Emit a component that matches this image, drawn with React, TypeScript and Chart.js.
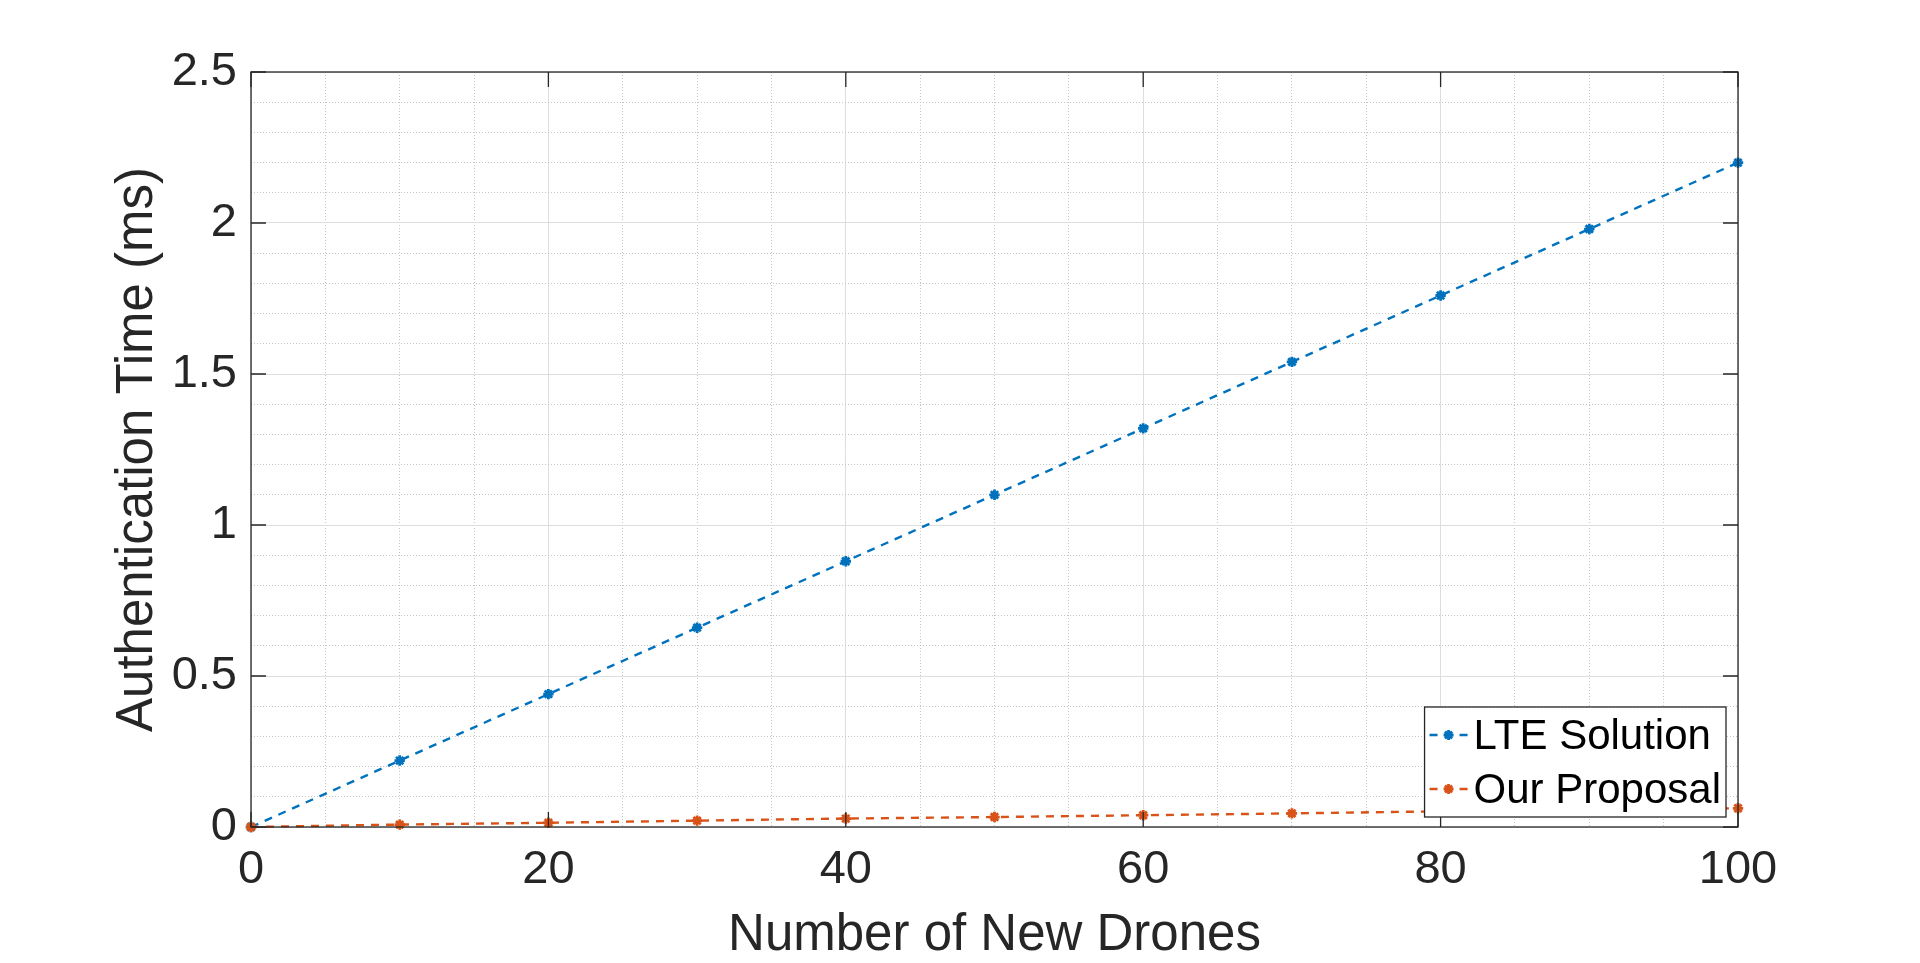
import { useEffect, useRef } from "react";
import { Chart, registerables } from "chart.js";

Chart.register(...registerables);

// values
const drones = [0, 10, 20, 30, 40, 50, 60, 70, 80, 90, 100];
const lteTime = [0, 0.22, 0.44, 0.66, 0.88, 1.1, 1.32, 1.54, 1.76, 1.98, 2.2];
const ourTime = [0, 0.008, 0.014, 0.021, 0.028, 0.033, 0.039, 0.045, 0.052, 0.057, 0.062];
const seriesNames = ["LTE Solution", "Our Proposal"];
const xTickLabels = [0, 20, 40, 60, 80, 100];
const yTickLabels = [0, 0.5, 1, 1.5, 2, 2.5];

const BLUE = "#0072BD";
const ORANGE = "#D95319";
const AXIS = "#262626";
const FONT = "'Liberation Sans', Arial, sans-serif";

function drawStar(ctx: CanvasRenderingContext2D, x: number, y: number, r: number) {
  const d = r * Math.SQRT1_2;
  ctx.beginPath();
  ctx.moveTo(x - r, y);
  ctx.lineTo(x + r, y);
  ctx.moveTo(x, y - r);
  ctx.lineTo(x, y + r);
  ctx.moveTo(x - d, y - d);
  ctx.lineTo(x + d, y + d);
  ctx.moveTo(x - d, y + d);
  ctx.lineTo(x + d, y - d);
  ctx.stroke();
}

// box round the axes with inward tick marks, like matlab's "box on"
const framePlugin = {
  id: "frame",
  afterDatasetsDraw(chart: any) {
    const { ctx, chartArea: a, scales } = chart;
    const len = 15;
    ctx.save();
    ctx.setLineDash([]);
    ctx.strokeStyle = AXIS;
    ctx.lineWidth = 1.3;
    ctx.strokeRect(a.left, a.top, a.right - a.left, a.bottom - a.top);
    ctx.beginPath();
    xTickLabels.forEach((v) => {
      const px = scales.x.getPixelForValue(v);
      ctx.moveTo(px, a.bottom);
      ctx.lineTo(px, a.bottom - len);
      ctx.moveTo(px, a.top);
      ctx.lineTo(px, a.top + len);
    });
    yTickLabels.forEach((v) => {
      const py = scales.y.getPixelForValue(v);
      ctx.moveTo(a.left, py);
      ctx.lineTo(a.left + len, py);
      ctx.moveTo(a.right, py);
      ctx.lineTo(a.right - len, py);
    });
    ctx.stroke();
    ctx.restore();
  },
};

// legend in the lower right corner of the axes
const legendPlugin = {
  id: "cornerLegend",
  afterDraw(chart: any) {
    const { ctx, chartArea: a } = chart;
    ctx.save();
    ctx.font = `42px ${FONT}`;
    const textW = Math.max(...seriesNames.map((s) => ctx.measureText(s).width));
    const w = 49 + textW + 5;
    const h = 110;
    const right = a.right - 12;
    const bottom = a.bottom - 10;
    const left = right - w;
    const top = bottom - h;
    ctx.fillStyle = "#fff";
    ctx.fillRect(left, top, w, h);
    ctx.strokeStyle = AXIS;
    ctx.lineWidth = 1.3;
    ctx.strokeRect(left, top, w, h);

    chart.data.datasets.forEach((ds: any, i: number) => {
      const y = top + 30 + i * 54;
      ctx.strokeStyle = ds.borderColor;
      ctx.lineWidth = 2.5;
      ctx.setLineDash([8, 7]);
      ctx.beginPath();
      ctx.moveTo(left + 5, y - 2);
      ctx.lineTo(left + 44, y - 2);
      ctx.stroke();
      ctx.setLineDash([]);
      ctx.lineWidth = 2.8;
      drawStar(ctx, left + 24, y - 2, 5);
      ctx.fillStyle = "#000";
      ctx.textBaseline = "middle";
      ctx.textAlign = "left";
      ctx.fillText(ds.label, left + 49, y);
    });
    ctx.restore();
  },
};

export default function App() {
  const canvasRef = useRef<HTMLCanvasElement>(null);
  const chartRef = useRef<Chart | null>(null);

  useEffect(() => {
    if (!canvasRef.current) return;
    if (chartRef.current) chartRef.current.destroy();

    const line = (label: string, values: number[], color: string, order: number) => ({
      label,
      data: drones.map((x, i) => ({ x, y: values[i] })),
      borderColor: color,
      backgroundColor: color,
      borderWidth: 2.4,
      borderDash: [8, 7],
      pointStyle: "star" as const,
      pointRadius: 5.2,
      pointBorderWidth: 2.8,
      pointBorderColor: color,
      pointBackgroundColor: color,
      fill: false,
      tension: 0,
      clip: false as const,
      order,
    });

    const tickFont = { family: FONT, size: 47 };
    const titleFont = { family: FONT, size: 51 };

    chartRef.current = new Chart(canvasRef.current, {
      type: "line",
      data: {
        datasets: [
          line(seriesNames[0], lteTime, BLUE, 2),
          line(seriesNames[1], ourTime, ORANGE, 1),
        ],
      },
      options: {
        responsive: false,
        devicePixelRatio: 1,
        animation: false,
        layout: { padding: { left: 107, top: 72, right: 182, bottom: -4 } },
        plugins: {
          legend: { display: false },
          tooltip: { enabled: false },
        },
        scales: {
          x: {
            type: "linear",
            position: "bottom",
            min: 0,
            max: 100,
            afterBuildTicks: (s: any) => {
              s.ticks = xTickLabels.map((value) => ({ value }));
            },
            afterFit: (s: any) => {
              s.height = 140;
            },
            grid: { color: "#dedede", lineWidth: 1, drawTicks: false },
            border: { display: false },
            ticks: {
              padding: 15,
              color: AXIS,
              font: tickFont,
              maxRotation: 0,
              autoSkip: false,
              callback: (v: any) => String(v),
            },
            title: { display: true, text: "Number of New Drones", color: AXIS, font: titleFont, padding: 0 },
          },
          xMinor: {
            type: "linear",
            position: "bottom",
            min: 0,
            max: 100,
            afterFit: (s: any) => {
              s.height = 0;
            },
            ticks: { display: false, stepSize: 5, maxTicksLimit: 100, autoSkip: false },
            grid: {
              drawTicks: false,
              lineWidth: 1,
              color: (c: any) => (c.tick && c.tick.value % 20 === 0 ? "rgba(0,0,0,0)" : "#c4c4c4"),
            },
            border: { display: false, dash: [1, 2] },
          },
          y: {
            type: "linear",
            position: "left",
            min: 0,
            max: 2.5,
            afterBuildTicks: (s: any) => {
              s.ticks = yTickLabels.map((value) => ({ value }));
            },
            afterFit: (s: any) => {
              s.width = 144;
            },
            grid: { color: "#dedede", lineWidth: 1, drawTicks: false },
            border: { display: false },
            ticks: { padding: 14, color: AXIS, font: tickFont, callback: (v: any) => String(v) },
            title: { display: true, text: "Authentication Time (ms)", color: AXIS, font: titleFont, padding: 0 },
          },
          yMinor: {
            type: "linear",
            position: "left",
            min: 0,
            max: 2.5,
            afterFit: (s: any) => {
              s.width = 0;
            },
            ticks: { display: false, stepSize: 0.1, maxTicksLimit: 100 },
            grid: {
              drawTicks: false,
              lineWidth: 1,
              color: (c: any) => {
                if (!c.tick) return "#c4c4c4";
                const k = c.tick.value / 0.5;
                return Math.abs(k - Math.round(k)) < 1e-6 ? "rgba(0,0,0,0)" : "#c4c4c4";
              },
            },
            border: { display: false, dash: [1, 2] },
          },
        },
      } as any,
      plugins: [framePlugin, legendPlugin],
    });

    return () => {
      if (chartRef.current) {
        chartRef.current.destroy();
        chartRef.current = null;
      }
    };
  }, []);

  return (
    <div style={{ position: "fixed", left: 0, top: 0, width: 1920, height: 963, background: "#fff" }}>
      <canvas ref={canvasRef} width={1920} height={963} style={{ display: "block" }}></canvas>
    </div>
  );
}
